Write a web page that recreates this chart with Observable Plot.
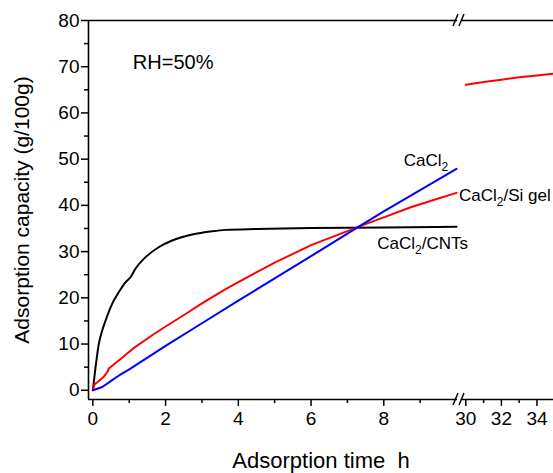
<!DOCTYPE html>
<html>
<head>
<meta charset="utf-8">
<script src="https://cdn.jsdelivr.net/npm/d3@7"></script>
<script src="https://cdn.jsdelivr.net/npm/@observablehq/plot@0.6"></script>
<style>
  html, body { margin: 0; padding: 0; background: #fff; }
  #chart { width: 553px; height: 473px; }
</style>
</head>
<body>
<div id="chart"></div>
<script>
// ---- data ----
const cntTime = [0, 0.074, 0.165, 0.26, 0.35, 0.53, 0.72, 0.9, 1.04, 1.17, 1.45, 1.82, 2.18, 2.73, 3.28, 3.65, 4.5, 6, 8, 10];
const cntValue = [0, 5.0, 10.1, 13.0, 15.1, 18.7, 21.3, 23.4, 24.5, 26.3, 28.8, 31.0, 32.4, 33.7, 34.4, 34.7, 34.9, 35.1, 35.2, 35.4];

const siTime = [0, 0.04, 0.07, 0.3, 0.4, 0.44, 0.72, 1.17, 1.63, 2.0, 2.55, 3.0, 3.65, 4, 5, 6, 7.09, 7.27, 8, 8.74, 9.5, 10];
const siValue = [0, 1.2, 1.4, 2.9, 4.0, 4.7, 6.5, 9.4, 11.9, 13.8, 16.5, 18.8, 21.9, 23.4, 27.6, 31.4, 34.7, 35.3, 37.4, 39.6, 41.5, 42.7];
const siLateTime = [30, 31, 32, 33, 34, 35];
const siLateValue = [66.1, 66.7, 67.2, 67.7, 68.1, 68.5];

const caTime = [0, 0.26, 0.53, 0.72, 1, 2, 3, 4, 5, 6, 7, 8, 9, 10];
const caValue = [0, 0.7, 2.2, 3.2, 4.5, 9.6, 14.5, 19.4, 24.2, 29.0, 33.9, 38.7, 43.3, 47.9];

const xTicksMajor = [0, 2, 4, 6, 8, 30, 32, 34];
const xTicksMinor = [1, 3, 5, 7, 9, 31, 33];
const yTicksMajor = [0, 10, 20, 30, 40, 50, 60, 70, 80];
const yTicksMinor = [5, 15, 25, 35, 45, 55, 65, 75];

// broken x axis: left part [xMin, breakLeft], right part [breakRight, xMax]
const xMin = -0.12, breakLeft = 10.11, breakRight = 29.7, xMax = 34.93;
const yMin = -2, yMax = 80;

const labels = [
  {x: 1.1, y: 70.9, text: "RH=50%", size: 20},
  {x: 8.55, y: 49.7, text: "CaCl2", size: 17},
  {x: 10.07, y: 42.2, text: "CaCl2/Si gel", size: 17},
  {x: 7.82, y: 31.8, text: "CaCl2/CNTs", size: 17}
];

const toRows = (t, v) => t.map((d, i) => ({t: d, v: v[i]}));
const cnt = toRows(cntTime, cntValue);
const si = toRows(siTime, siValue);
const siLate = toRows(siLateTime, siLateValue);
const ca = toRows(caTime, caValue);

const W = 553, H = 473;
const mLeft = 88, mTop = 20, mBottomPx = 399, breakPx = 460;

const plot = Plot.plot({
  width: W,
  height: H,
  marginLeft: mLeft,
  marginTop: mTop,
  marginRight: 0,
  marginBottom: H - mBottomPx,
  style: {fontFamily: "'Liberation Sans', Arial, sans-serif", background: "#fff", color: "#000", overflow: "visible"},
  x: {type: "linear", domain: [xMin, breakLeft, breakRight, xMax], range: [mLeft, breakPx, breakPx, W]},
  y: {domain: [yMin, yMax], range: [mBottomPx, mTop]},
  marks: [
    Plot.line(cnt, {x: "t", y: "v", stroke: "#000", strokeWidth: 2, curve: "monotone-x"}),
    Plot.line(si, {x: "t", y: "v", stroke: "#ff0000", strokeWidth: 2}),
    Plot.line(siLate, {x: "t", y: "v", stroke: "#ff0000", strokeWidth: 2}),
    Plot.line(ca, {x: "t", y: "v", stroke: "#0000ff", strokeWidth: 2}),
    Plot.ruleY([yMax], {stroke: "#000", strokeWidth: 1.6}),
    Plot.ruleY([yMin], {stroke: "#000", strokeWidth: 1.6}),
    Plot.ruleX([xMin], {stroke: "#000", strokeWidth: 1.6}),
    Plot.axisX({ticks: xTicksMajor, tickSize: 7, tickPadding: 5, fontSize: 19, label: null, strokeWidth: 1.5}),
    Plot.axisX({ticks: xTicksMinor, tickSize: 4, tickFormat: () => "", label: null, strokeWidth: 1.5}),
    Plot.axisY({ticks: yTicksMajor, tickSize: 7, tickPadding: 2, fontSize: 19, label: null, strokeWidth: 1.5}),
    Plot.axisY({ticks: yTicksMinor, tickSize: 4, tickFormat: () => "", label: null, strokeWidth: 1.5}),
    Plot.text(labels, {x: "x", y: "y", text: "text", fontSize: "size", textAnchor: "start", fill: "#000", className: "lbl"}),
    Plot.text(["Adsorption time  h"], {frameAnchor: "bottom", dy: 61, fontSize: 22, textAnchor: "middle", lineAnchor: "middle", fill: "#000"}),
    Plot.text(["Adsorption capacity (g/100g)"], {frameAnchor: "left", dx: -66, rotate: -90, fontSize: 21, textAnchor: "middle", lineAnchor: "middle", fill: "#000"})
  ]
});

document.getElementById("chart").appendChild(plot);

// subscripts for chemical formulas
d3.select(plot).selectAll("g.lbl text").each(function() {
  const el = d3.select(this);
  const s = el.text();
  const i = s.indexOf("2");
  if (i < 0) return;
  el.text(null);
  el.append("tspan").text(s.slice(0, i));
  el.append("tspan").attr("font-size", 12).attr("dy", 5).text("2");
  if (i + 1 < s.length) el.append("tspan").attr("dy", -5).text(s.slice(i + 1));
});

// axis break marks drawn at the scale position of the break
const xs = plot.scale("x"), ys = plot.scale("y");
const bx = xs.apply(breakLeft);
const svg = d3.select(plot);
for (const yv of [yMax, yMin]) {
  const by = ys.apply(yv);
  const g = svg.append("g");
  g.append("rect").attr("x", bx - 3).attr("y", by - 2).attr("width", 5).attr("height", 4).attr("fill", "#fff");
  g.append("line").attr("x1", bx - 7).attr("y1", by + 6).attr("x2", bx - 2).attr("y2", by - 6).attr("stroke", "#000").attr("stroke-width", 1.5);
  g.append("line").attr("x1", bx - 1).attr("y1", by + 6).attr("x2", bx + 4).attr("y2", by - 6).attr("stroke", "#000").attr("stroke-width", 1.5);
}
</script>
</body>
</html>
